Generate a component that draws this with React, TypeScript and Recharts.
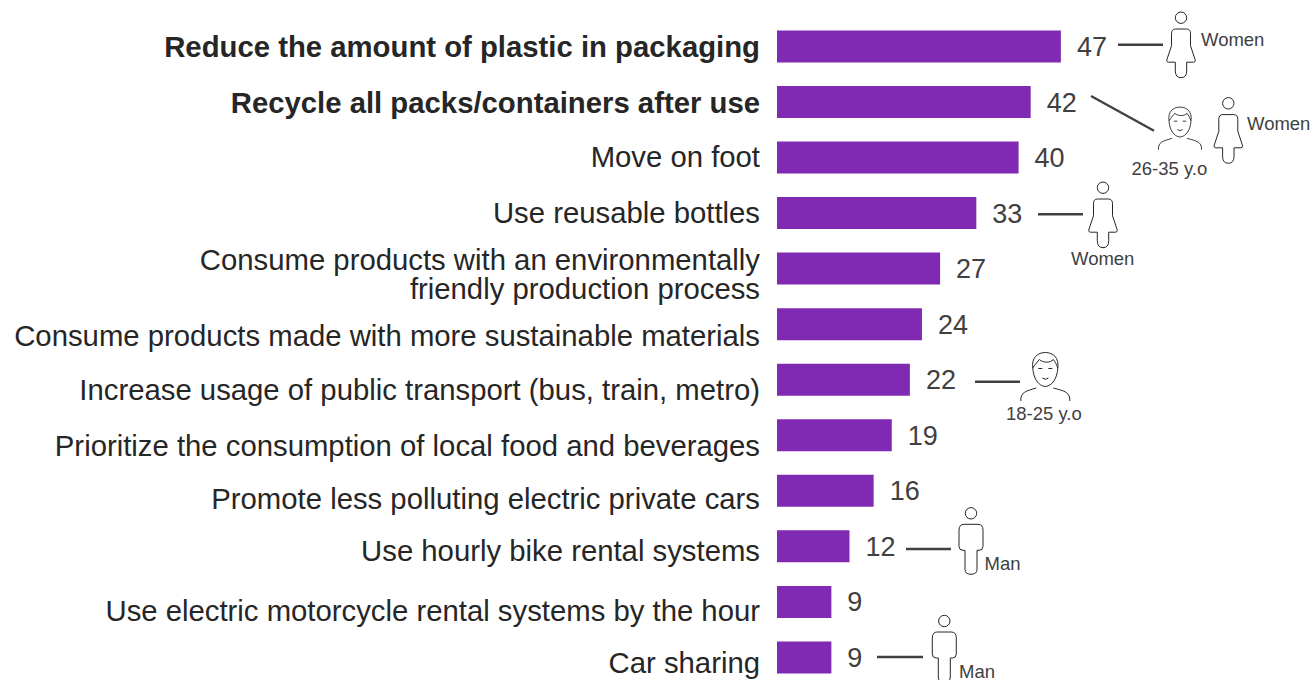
import React from 'react'
import { BarChart, Bar, XAxis, YAxis, LabelList, Customized } from 'recharts'

const categories = [
  'Reduce the amount of plastic in packaging',
  'Recycle all packs/containers after use',
  'Move on foot',
  'Use reusable bottles',
  'Consume products with an environmentally|friendly production process',
  'Consume products made with more sustainable materials',
  'Increase usage of public transport (bus, train, metro)',
  'Prioritize the consumption of local food and beverages',
  'Promote less polluting electric private cars',
  'Use hourly bike rental systems',
  'Use electric motorcycle rental systems by the hour',
  'Car sharing',
]
const values = [47, 42, 40, 33, 27, 24, 22, 19, 16, 12, 9, 9]
const boldCategories = [categories[0], categories[1]]

const rows = categories.map((name, i) => ({ name, value: values[i] }))

const PURPLE = '#8029b3'
const DARK = '#262626'
const GREY = '#404040'
const FONT = '"Liberation Sans", Arial, sans-serif'

// the category labels don't sit exactly on the bar centres
const tickNudge = [1, 1, 0, 0, 6, 12, 11, 11, 8, 5, 9, 6]

const CategoryTick = ({ x, y, payload, index }: any) => {
  const lines = String(payload.value).split('|')
  const bold = boldCategories.includes(payload.value)
  const top = y + tickNudge[index] + 10 - ((lines.length - 1) * 29) / 2
  return (
    <text
      textAnchor="end"
      fontFamily={FONT}
      fontSize={29.3}
      fontWeight={bold ? 700 : 400}
      fill={DARK}
    >
      {lines.map((line, i) => (
        <tspan key={line} x={x} y={top + i * 29}>
          {line}
        </tspan>
      ))}
    </text>
  )
}

const Woman = ({ x, y }: { x: number; y: number }) => (
  <g transform={`translate(${x} ${y})`} fill="none" stroke="#262626" strokeWidth={1}>
    <circle r={5.7} />
    <path d="M-5.5 11.3 H5.5 Q9.5 11.3 9.5 16 V28 L14.3 42.5 Q14.3 44.5 12.5 44.5 H5.7 V53 Q5.7 60 0 60 Q-5.7 60 -5.7 53 V44.5 H-12.5 Q-14.3 44.5 -14.3 42.5 L-9.5 28 V16 Q-9.5 11.3 -5.5 11.3 Z" />
  </g>
)

const Man = ({ x, y }: { x: number; y: number }) => (
  <g transform={`translate(${x} ${y})`} fill="none" stroke="#262626" strokeWidth={1}>
    <circle r={5.7} />
    <path d="M-7 11 H7 Q12 11 12 17 V33 Q12 37 8 37 H6 V56 Q6 61 0 61 Q-6 61 -6 56 V37 H-8 Q-12 37 -12 33 V17 Q-12 11 -7 11 Z" />
  </g>
)

const Face = ({ x, y, scale = 1 }: { x: number; y: number; scale?: number }) => (
  <g transform={`translate(${x} ${y}) scale(${scale})`} fill="none" stroke="#262626" strokeWidth={1}>
    <path d="M-12.5 -2 C-14 -12 -8 -17.5 0 -17.5 C8 -17.5 14 -12 12.5 -2 C12 8 7 16 0 16.5 C-7 16 -12 8 -12.5 -2 Z" />
    <path d="M-12.5 -2 C-10 -6 -7 -9 -6 -10.5 C-2 -7 5 -7 8 -10.5 C10 -8 11.5 -5 12.5 -2" />
    <path d="M-7 -1.5 H-3 M3 -1.5 H7" />
    <path d="M-3 8 Q0 10.5 3 8" />
    <path d="M-24.5 31 C-25 22 -19 21 -9 18 M24.5 31 C25 22 19 21 8 18" />
  </g>
)

const connectors = [
  [1118, 44.7, 1163, 44.7],
  [1091, 96, 1154, 130.7],
  [1038, 214.3, 1083, 214.3],
  [975, 381.7, 1020, 381.7],
  [906, 549, 951, 549],
  [877, 657, 923, 657],
]

const captions = [
  { text: 'Women', x: 1201, y: 45.5 },
  { text: 'Women', x: 1247, y: 130 },
  { text: 'Women', x: 1071, y: 265 },
  { text: '26-35 y.o', x: 1131.5, y: 175 },
  { text: '18-25 y.o', x: 1006, y: 420 },
  { text: 'Man', x: 984.5, y: 570 },
  { text: 'Man', x: 959, y: 677.5 },
]

// callouts beside the bars: who over-indexes on each behaviour
const Callouts = () => (
  <g>
    {connectors.map(([x1, y1, x2, y2]) => (
      <line key={`${x1}-${y1}`} x1={x1} y1={y1} x2={x2} y2={y2} stroke={GREY} strokeWidth={2.4} />
    ))}
    <Woman x={1181} y={17.7} />
    <Woman x={1228.3} y={103.3} />
    <Woman x={1103} y={187.7} />
    <Man x={971} y={513.3} />
    <Man x={944.3} y={621} />
    <Face x={1180} y={122.5} scale={0.88} />
    <Face x={1045.3} y={370} />
    {captions.map((c) => (
      <text key={`${c.text}-${c.x}`} x={c.x} y={c.y} fontFamily={FONT} fontSize={18.5} fill={GREY}>
        {c.text}
      </text>
    ))}
  </g>
)

export default function App() {
  return (
    <div style={{ position: 'absolute', left: 0, top: 0, width: 1314, height: 680, overflow: 'hidden', background: '#fff' }}>
      <BarChart
        width={1314}
        height={690}
        data={rows}
        layout="vertical"
        barSize={32}
        margin={{ top: 18.4, right: 235, bottom: 5, left: 0 }}
      >
        <XAxis type="number" domain={[0, 50]} hide />
        <YAxis
          type="category"
          dataKey="name"
          width={777}
          interval={0}
          axisLine={false}
          tickLine={false}
          tickMargin={11}
          tick={<CategoryTick />}
        />
        <Bar dataKey="value" fill={PURPLE} isAnimationActive={false}>
          <LabelList
            dataKey="value"
            position="right"
            offset={16}
            fontFamily={FONT}
            fontSize={27}
            fill={GREY}
          />
        </Bar>
        <Customized component={Callouts} />
      </BarChart>
    </div>
  )
}
